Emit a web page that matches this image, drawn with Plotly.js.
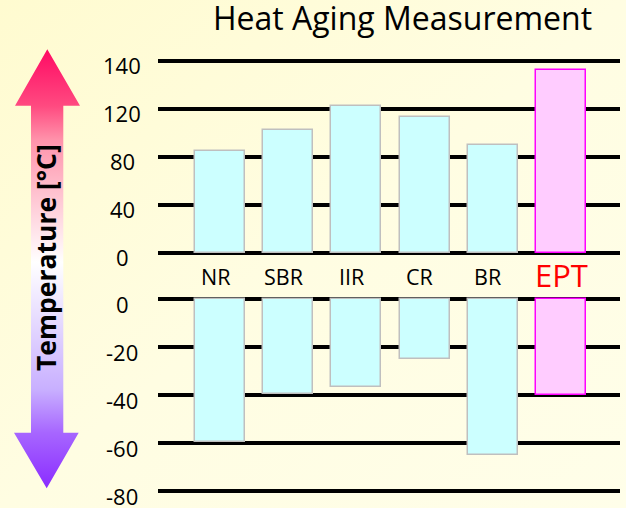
<!DOCTYPE html>
<html>
<head>
<meta charset="utf-8">
<script src="https://cdn.plot.ly/plotly-3.0.1.min.js"></script>
<style>html,body{margin:0;padding:0;background:#fffde4;}#chart{width:626px;height:508px;}</style>
</head>
<body>
<div id="chart"></div>
<script>
// ---- data ----
const categories = ['NR', 'SBR', 'IIR', 'CR', 'BR', 'EPT'];
const maxTemp = [85, 102, 121, 113, 90, 136];          // heat resistance (upper panel)
const minTemp = [-59.5, -39.5, -36.5, -25, -65, -40];  // cold resistance (lower panel)
const topTicks = [0, 40, 80, 120, 140];
const bottomTicks = [0, -20, -40, -60, -80];
const highlight = 'EPT';

// upper panel uses evenly spaced tick labels: map a value onto the tick index scale
function topIndex(v) {
  for (let i = 0; i < topTicks.length - 1; i++) {
    const a = topTicks[i], b = topTicks[i + 1];
    if (v <= b || i === topTicks.length - 2) return i + (v - a) / (b - a);
  }
  return 0;
}

const font = 'Open Sans, Liberation Sans, sans-serif';
const fillCols = categories.map(c => c === highlight ? '#ffccff' : '#ccffff');
const lineCols = categories.map(c => c === highlight ? '#ff00ff' : '#bfbfbf');

const W = 626, H = 508;
const px = v => v / W, py = v => 1 - v / H;

const traces = [
  {
    type: 'bar', x: categories, y: maxTemp.map(topIndex), customdata: maxTemp,
    xaxis: 'x', yaxis: 'y', width: 0.733,
    marker: {color: fillCols, line: {color: lineCols, width: 1.5}},
    hovertemplate: '%{x}: %{customdata} °C<extra></extra>'
  },
  {
    type: 'bar', x: categories, y: minTemp,
    xaxis: 'x2', yaxis: 'y2', width: 0.733,
    marker: {color: fillCols, line: {color: lineCols, width: 1.5}},
    hovertemplate: '%{x}: %{y} °C<extra></extra>'
  },
  {
    // decorative double-headed gradient arrow
    type: 'scatter', mode: 'lines', xaxis: 'x3', yaxis: 'y3',
    x: [47.3, 80, 63.3, 63.3, 78.7, 46.7, 14, 31, 31, 15, 47.3],
    y: [49.3, 105.7, 105.7, 432.7, 432.7, 488.3, 432.7, 432.7, 105.7, 105.7, 49.3].map(v => H - v),
    fill: 'toself', line: {width: 0}, hoverinfo: 'skip', showlegend: false,
    fillgradient: {
      type: 'vertical',
      colorscale: [
        [0, '#8a2cff'], [0.127, '#a766ff'], [0.224, '#c8afff'], [0.515, '#ffffff'],
        [0.793, '#ff93ab'], [0.871, '#ff4a80'], [1, '#ff0a64']
      ]
    }
  }
];

const xDom = [px(158), px(620)];
const xRange = [-0.909, 5.865];

const annotations = [];
topTicks.forEach((t, i) => annotations.push({
  xref: 'paper', x: px(122), xanchor: 'center', yref: 'y', y: i, yanchor: 'middle',
  yshift: -4, text: String(t), showarrow: false, font: {family: font, size: 22, color: '#000'}
}));
bottomTicks.forEach(t => annotations.push({
  xref: 'paper', x: px(122), xanchor: 'center', yref: 'y2', y: t, yanchor: 'middle',
  yshift: -5, text: String(t), showarrow: false, font: {family: font, size: 22, color: '#000'}
}));
categories.forEach(c => annotations.push({
  xref: 'x', x: c, xanchor: 'center', yref: 'paper', y: py(c === highlight ? 275 : 276), yanchor: 'middle',
  xshift: c === highlight ? 0 : -5, text: c, showarrow: false,
  font: {family: font, size: c === highlight ? 31 : 21.5, color: c === highlight ? '#ff0000' : '#000'}
}));
annotations.push({
  xref: 'paper', x: px(46), xanchor: 'center', yref: 'paper', y: py(258), yanchor: 'middle',
  text: '<b>Temperature [°C]</b>', textangle: -90, showarrow: false,
  font: {family: font, size: 26.5, color: '#000'}
});

const bgSvg = "<svg xmlns='http://www.w3.org/2000/svg' width='626' height='508'><defs>" +
  "<linearGradient id='g' x1='0' y1='0' x2='1' y2='1'>" +
  "<stop offset='0' stop-color='#fffbd0'/><stop offset='0.5' stop-color='#fffde2'/><stop offset='1' stop-color='#fffee9'/>" +
  "</linearGradient></defs><rect width='626' height='508' fill='url(#g)'/></svg>";

const layout = {
  width: W, height: H,
  margin: {l: 0, r: 0, t: 0, b: 0},
  paper_bgcolor: '#fffde4', plot_bgcolor: 'rgba(0,0,0,0)',
  showlegend: false, bargap: 0,
  font: {family: font, color: '#000'},
  title: {
    text: 'Heat Aging Measurement', x: px(402.5), xanchor: 'center',
    yref: 'container', y: py(18.5), yanchor: 'middle',
    font: {family: font, size: 32, color: '#000'}
  },
  xaxis: {domain: xDom, range: xRange, anchor: 'y', showticklabels: false, showgrid: false,
          zeroline: false, showline: false, ticks: '', fixedrange: true},
  xaxis2: {domain: xDom, range: xRange, anchor: 'y2', showticklabels: false, showgrid: false,
           zeroline: false, showline: false, ticks: '', fixedrange: true},
  yaxis: {domain: [py(258), py(50)], range: [-0.1104, 4.2229], anchor: 'x',
          tickvals: topTicks.map((t, i) => i), showticklabels: false,
          showgrid: true, gridcolor: '#000', gridwidth: 4, zeroline: false, ticks: '', fixedrange: true},
  yaxis2: {domain: [py(500), py(295)], range: [-83.63, 1.79], anchor: 'x2',
           tickvals: bottomTicks, showticklabels: false,
           showgrid: true, gridcolor: '#000', gridwidth: 4, zeroline: false, ticks: '', fixedrange: true},
  xaxis3: {domain: [0, 1], range: [0, W], anchor: 'y3', visible: false, fixedrange: true},
  yaxis3: {domain: [0, 1], range: [0, H], anchor: 'x3', visible: false, fixedrange: true},
  annotations: annotations,
  images: [{
    source: 'data:image/svg+xml;charset=utf-8,' + encodeURIComponent(bgSvg),
    xref: 'paper', yref: 'paper', x: 0, y: 1, sizex: 1, sizey: 1,
    sizing: 'stretch', xanchor: 'left', yanchor: 'top', layer: 'below'
  }]
};

Plotly.newPlot('chart', traces, layout, {displayModeBar: false, staticPlot: false});
</script>
</body>
</html>
